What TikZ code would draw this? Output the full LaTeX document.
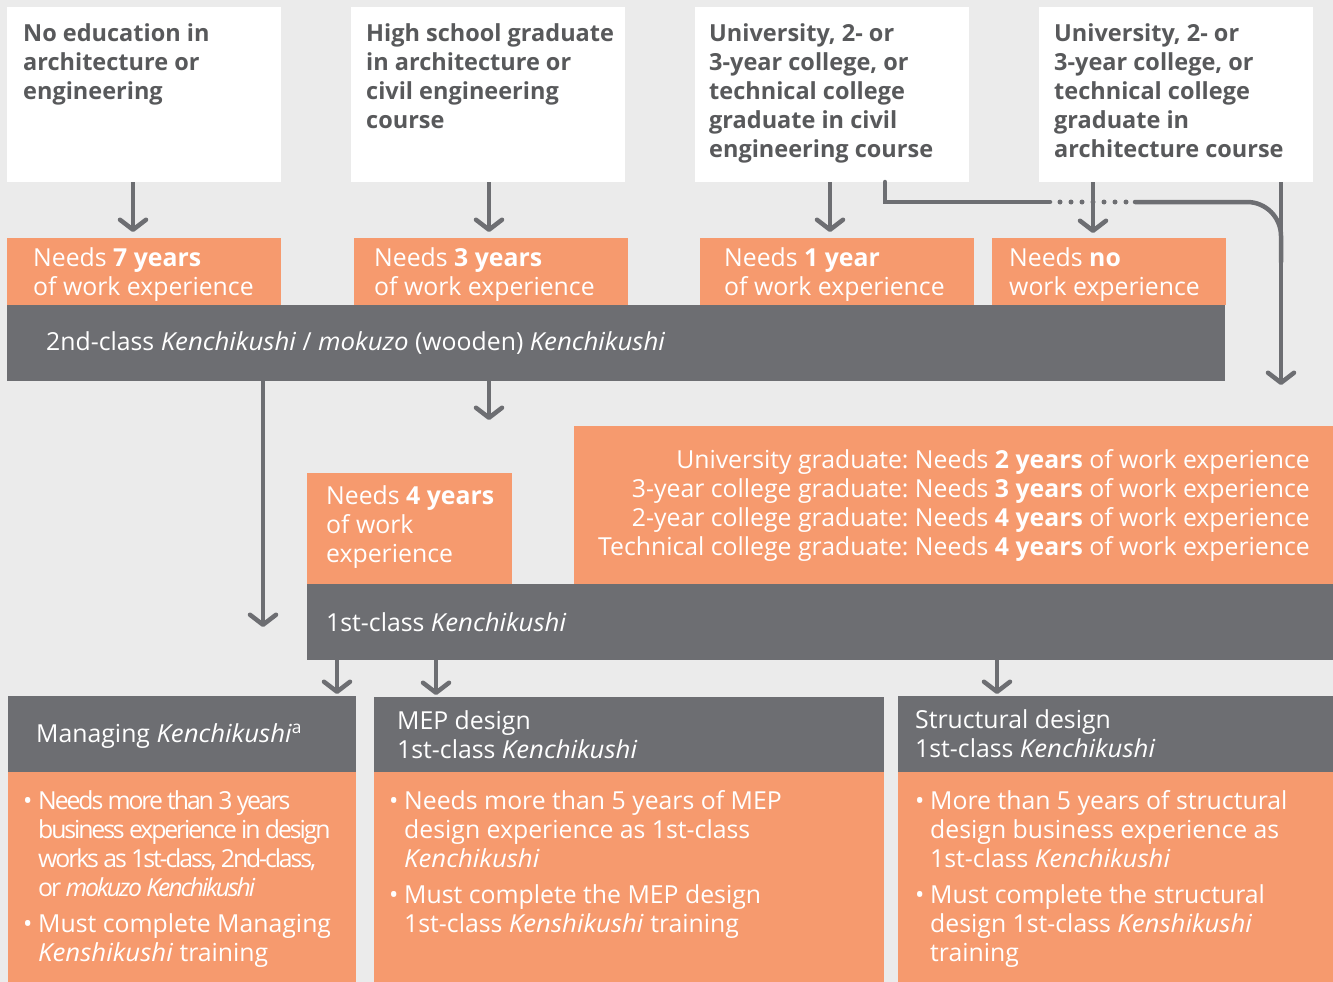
\documentclass[tikz,border=0pt]{standalone}
\usepackage{fontspec}
\setmainfont{Open Sans}[ItalicFeatures={FakeStretch=1.04}]
\newfontfamily\tightfont{Open Sans}[LetterSpace=-8.5]
\usetikzlibrary{arrows.meta}
\frenchspacing

\definecolor{bggray}{RGB}{235,235,235}
\definecolor{korange}{RGB}{246,154,110}
\definecolor{kdark}{RGB}{109,110,114}
\definecolor{khead}{RGB}{88,89,91}

\newcommand{\kbul}{\makebox[15pt][l]{\textbullet}}
\newcommand{\kind}{\hspace*{15pt}}

\tikzset{
  panel/.style={anchor=north west, inner sep=0pt, outer sep=0pt},
  whitepanel/.style={panel, fill=white},
  orangepanel/.style={panel, fill=korange},
  darkpanel/.style={panel, fill=kdark},
  headtext/.style={anchor=north west, inner sep=0pt, align=left, text=khead, font=\fontsize{23.5}{29}\selectfont\bfseries},
  wtext/.style={inner sep=0pt, align=left, text=white, font=\fontsize{24.8}{29}\selectfont},
  flow/.style={draw=kdark, line width=4.5pt, -{Straight Barb[length=10pt,width=26pt,round]}},
  link/.style={draw=kdark, line width=4.5pt, line cap=round},
}

\begin{document}
\begin{tikzpicture}[x=1pt,y=-1pt]
%Background
\fill[bggray] (0,0) rectangle (1333,982);
\useasboundingbox (0,0) rectangle (1333,982);

%Education boxes
\node[whitepanel, minimum width=274pt, minimum height=175pt] (edu0) at (7,7) {};
\node[whitepanel, minimum width=274pt, minimum height=175pt] (edu1) at (351,7) {};
\node[whitepanel, minimum width=274pt, minimum height=175pt] (edu2) at (695,7) {};
\node[whitepanel, minimum width=274pt, minimum height=175pt] (edu3) at (1039,7) {};
% Text Node
\node[headtext, xshift=16pt, yshift=-16pt] (edu0t) at (edu0.north west) {No education in\\architecture or\\engineering};
\node[headtext, xshift=15pt, yshift=-16pt] (edu1t) at (edu1.north west) {High school graduate\\in architecture or\\civil engineering\\course};
\node[headtext, xshift=14pt, yshift=-16pt] (edu2t) at (edu2.north west) {University, 2- or\\3-year college, or\\technical college\\graduate in civil\\engineering course};
\node[headtext, xshift=15pt, yshift=-16pt] (edu3t) at (edu3.north west) {University, 2- or\\3-year college, or\\technical college\\graduate in\\architecture course};

%Work experience boxes
\node[orangepanel, minimum width=274pt, minimum height=67pt] (need0) at (7,238) {};
\node[orangepanel, minimum width=274pt, minimum height=67pt] (need1) at (354,238) {};
\node[orangepanel, minimum width=274pt, minimum height=67pt] (need2) at (700,238) {};
\node[orangepanel, minimum width=234pt, minimum height=67pt] (need3) at (992,238) {};
% Text Node
\node[wtext, anchor=west, xshift=26pt, yshift=-3pt] (need0t) at (need0.west) {Needs \textbf{7 years}\\of work experience};
\node[wtext, anchor=west, xshift=20pt, yshift=-3pt] (need1t) at (need1.west) {Needs \textbf{3 years}\\of work experience};
\node[wtext, anchor=west, xshift=24pt, yshift=-3pt] (need2t) at (need2.west) {Needs \textbf{1 year}\\of work experience};
\node[wtext, anchor=west, xshift=17pt, yshift=-3pt] (need3t) at (need3.west) {Needs \textbf{no}\\work experience};

%2nd-class bar
\node[darkpanel, minimum width=1218pt, minimum height=76pt] (class2) at (7,305) {};
\node[wtext, anchor=west, xshift=39pt] (class2t) at (class2.west) {2nd-class \textit{Kenchikushi} / \textit{mokuzo} (wooden) \textit{Kenchikushi}};

%1st-class requirements
\node[orangepanel, minimum width=205pt, minimum height=111pt] (need4) at (307,473) {};
\node[orangepanel, minimum width=759pt, minimum height=158pt] (univ) at (574,426) {};
\node[wtext, anchor=west, xshift=19pt, yshift=1pt] (need4t) at (need4.west) {Needs \textbf{4 years}\\of work\\experience};
\node[wtext, anchor=east, align=right, xshift=-23pt] (univt) at (univ.east) {University graduate: Needs \textbf{2 years} of work experience\\3-year college graduate: Needs \textbf{3 years} of work experience\\2-year college graduate: Needs \textbf{4 years} of work experience\\Technical college graduate: Needs \textbf{4 years} of work experience};

%1st-class bar
\node[darkpanel, minimum width=1026pt, minimum height=76pt] (class1) at (307,584) {};
\node[wtext, anchor=west, xshift=19pt] (class1t) at (class1.west) {1st-class \textit{Kenchikushi}};

%Specialist boxes
\node[darkpanel, minimum width=348pt, minimum height=76pt] (mgr) at (8,696) {};
\node[orangepanel, minimum width=348pt, minimum height=210pt] (mgrbody) at (8,772) {};
\node[darkpanel, minimum width=510pt, minimum height=75pt] (mep) at (374,697) {};
\node[orangepanel, minimum width=510pt, minimum height=210pt] (mepbody) at (374,772) {};
\node[darkpanel, minimum width=435pt, minimum height=76pt] (str) at (898,696) {};
\node[orangepanel, minimum width=435pt, minimum height=210pt] (strbody) at (898,772) {};
% Text Node
\node[wtext, anchor=west, xshift=28pt, yshift=-2pt] (mgrt) at (mgr.west) {Managing \textit{Kenchikushi}\textsuperscript{a}};
\node[wtext, anchor=west, xshift=23pt] (mept) at (mep.west) {MEP design\\1st-class \textit{Kenchikushi}};
\node[wtext, anchor=west, xshift=17pt] (strt) at (str.west) {Structural design\\1st-class \textit{Kenchikushi}};
\node[wtext, anchor=north west, xshift=15pt, yshift=-18pt] (mgrbodyt) at (mgrbody.north west) {\kbul{\tightfont Needs more than 3 years}\\\kind{\tightfont business experience in design}\\\kind{\tightfont works as 1st-class, 2nd-class,}\\\kind{\tightfont or \textit{mokuzo Kenchikushi}}\\[7pt]\kbul Must complete Managing\\\kind\textit{Kenshikushi} training};
\node[wtext, anchor=north west, xshift=15pt, yshift=-18pt] (mepbodyt) at (mepbody.north west) {\kbul Needs more than 5 years of MEP\\\kind design experience as 1st-class\\\kind\textit{Kenchikushi}\\[7pt]\kbul Must complete the MEP design\\\kind 1st-class \textit{Kenshikushi} training};
\node[wtext, anchor=north west, xshift=17pt, yshift=-18pt] (strbodyt) at (strbody.north west) {\kbul More than 5 years of structural\\\kind design business experience as\\\kind 1st-class \textit{Kenchikushi}\\[7pt]\kbul Must complete the structural\\\kind design 1st-class \textit{Kenshikushi}\\\kind training};

%Arrow columns
\coordinate (col0) at (133,0);
\coordinate (col1) at (489,0);
\coordinate (col2) at (830,0);
\coordinate (col3) at (1093,0);
\coordinate (bendA) at (885,202);
\coordinate (dotsL) at (1050,202);
\coordinate (dotsR) at (1135,202);
\coordinate (dropEnd) at (1281,385);
\coordinate (leftEnd) at (263,627);

%Straight Lines
\draw[flow, shorten >=6pt] (edu0.south -| col0) -- (need0.north -| col0);
\draw[flow, shorten >=6pt] (edu1.south -| col1) -- (need1.north -| col1);
\draw[flow, shorten >=6pt] (edu2.south -| col2) -- (need2.north -| col2);
\draw[flow, shorten >=5pt] (edu3.south -| col3) -- (need3.north -| col3);
\draw[link] (edu2.south -| bendA) -- (bendA) -- (dotsL);
\draw[link, line width=5pt, dash pattern=on 0pt off 11pt] (1060,202) -- (1127,202);
\draw[link, rounded corners=34pt] (dotsR) -- (dotsR -| dropEnd) -- ++(0,60);
\draw[flow] (edu3.south -| dropEnd) -- (dropEnd);
\draw[flow, shorten >=6pt] (class2.south -| col1) -- (univ.north -| col1);
\draw[flow] (class2.south -| leftEnd) -- (leftEnd);
\draw[flow, shorten >=2pt] (class1.south -| 337,0) -- (mgr.north -| 337,0);
\draw[flow, shorten >=2pt] (class1.south -| 436,0) -- (mep.north -| 436,0);
\draw[flow, shorten >=2pt] (class1.south -| 997,0) -- (str.north -| 997,0);

\end{tikzpicture}
\end{document}
